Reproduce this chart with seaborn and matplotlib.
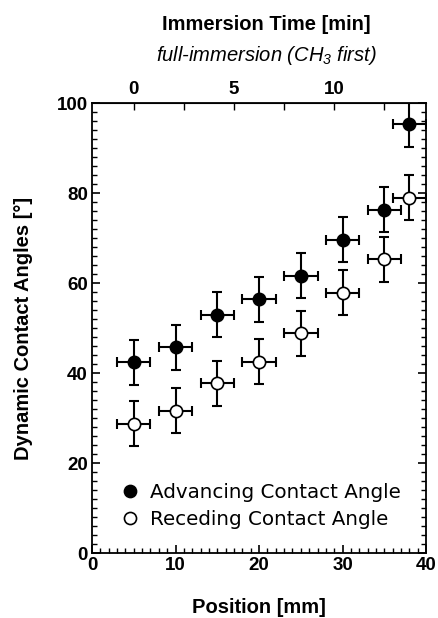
import matplotlib
matplotlib.use("Agg")
import matplotlib.pyplot as plt
import seaborn as sns
import numpy as np
import pandas as pd
from matplotlib.lines import Line2D

# ---- data ----
position_mm = [5, 10, 15, 20, 25, 30, 35, 38]
advancing = [42.4, 45.8, 53.0, 56.4, 61.6, 69.6, 76.3, 95.3]
receding = [28.7, 31.6, 37.8, 42.5, 48.9, 57.9, 65.3, 79.0]
y_err = [5, 5, 5, 5, 5, 5, 5, 5]
x_err = [2, 2, 2, 2, 2, 2, 2, 2]
series_labels = ["Advancing Contact Angle", "Receding Contact Angle"]
x_ticks = [0, 10, 20, 30, 40]
y_ticks = [0, 20, 40, 60, 80, 100]
time_ticks = [0, 5, 10]

sns.set_style("ticks")
plt.rcParams["font.family"] = ["Liberation Sans", "DejaVu Sans"]
plt.rcParams["mathtext.fontset"] = "custom"
plt.rcParams["mathtext.rm"] = "Liberation Sans:italic"
plt.rcParams["mathtext.it"] = "Liberation Sans:italic"
for k in ["text.color", "axes.labelcolor", "xtick.color", "ytick.color", "axes.edgecolor"]:
    plt.rcParams[k] = "black"

fig = plt.figure(figsize=(4.38, 6.18), dpi=100)
ax = fig.add_axes([0.210, 0.105, 0.763, 0.728])

df = pd.DataFrame({"pos": position_mm, "adv": advancing, "rec": receding,
                   "yerr": y_err, "xerr": x_err})

for col in ["adv", "rec"]:
    ax.errorbar(df["pos"], df[col], yerr=df["yerr"], xerr=df["xerr"], fmt="none",
                ecolor="black", elinewidth=1.5, capsize=3.5, capthick=1.5, zorder=2)

sns.scatterplot(data=df, x="pos", y="adv", ax=ax, s=78, color="black",
                edgecolor="black", linewidth=1.2, zorder=3)
sns.scatterplot(data=df, x="pos", y="rec", ax=ax, s=78, color="white",
                edgecolor="black", linewidth=1.2, zorder=3)

ax.set_xlim(0, 40)
ax.set_ylim(0, 100)
ax.set_xticks(x_ticks)
ax.set_yticks(y_ticks)
ax.set_xticks(np.arange(0, 41, 1), minor=True)
ax.set_yticks(np.arange(0, 101, 2), minor=True)
ax.tick_params(axis="both", which="both", direction="in", color="black")
ax.tick_params(axis="both", which="major", length=6, width=1.2, labelsize=13.5, pad=3)
ax.tick_params(axis="both", which="minor", length=3.5, width=1.0)
ax.tick_params(axis="y", which="both", right=True)
for lab in ax.get_xticklabels() + ax.get_yticklabels():
    lab.set_fontweight("bold")
for sp in ax.spines.values():
    sp.set_linewidth(1.3)
    sp.set_color("black")

ax.set_xlabel("Position [mm]", fontsize=14.5, fontweight="bold", labelpad=17)
ax.set_ylabel("Dynamic Contact Angles [°]", fontsize=14.5, fontweight="bold", labelpad=17)

sec = ax.secondary_xaxis("top", functions=(lambda p: (p - 5) / 2.4, lambda t: t * 2.4 + 5))
sec.set_xticks(time_ticks)
sec.set_xticks([2.5, 7.5, 12.5], minor=True)
sec.tick_params(which="both", direction="in", length=5, width=1.0, labelsize=13.5, pad=4)
for lab in sec.get_xticklabels():
    lab.set_fontweight("bold")

fig.text(0.607, 0.960, "Immersion Time [min]", ha="center", va="center",
         fontsize=14.5, fontweight="bold")
fig.text(0.607, 0.910, r"full-immersion (CH$_3$ first)", ha="center", va="center",
         fontsize=14.5, fontstyle="italic")

handles = [Line2D([], [], marker="o", ls="none", markersize=8.7, markerfacecolor="black",
                  markeredgecolor="black", markeredgewidth=1.2),
           Line2D([], [], marker="o", ls="none", markersize=8.7, markerfacecolor="white",
                  markeredgecolor="black", markeredgewidth=1.2)]
ax.legend(handles, series_labels, loc="lower left", bbox_to_anchor=(0.06, 0.037),
          frameon=False, handletextpad=0.5, labelspacing=0.4, borderaxespad=0,
          handlelength=1.0, prop={"family": "DejaVu Sans", "size": 14.3})

fig.savefig("out.png", dpi=100)
